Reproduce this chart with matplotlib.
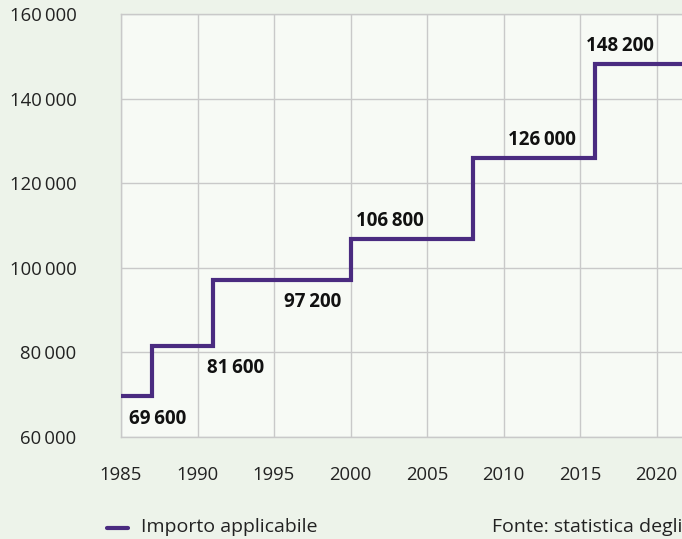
import matplotlib
matplotlib.use('Agg')
import matplotlib.pyplot as plt

plt.rcParams['font.family'] = ['Open Sans', 'DejaVu Sans']

# step data: year the amount applies from, amount
years = [1985, 1987, 1991, 2000, 2008, 2016, 2025]
amounts = [69600, 81600, 97200, 106800, 126000, 148200, 148200]
label_texts = ['69\u2009600', '81\u2009600', '97\u2009200', '106\u2009800', '126\u2009000', '148\u2009200']
label_x = [1987.4, 1992.5, 1997.5, 2002.6, 2012.5, 2017.6]
label_side = [-1, -1, -1, 1, 1, 1]   # below / above the line

xticks = [1985, 1990, 1995, 2000, 2005, 2010, 2015, 2020]
yticks = [60000, 80000, 100000, 120000, 140000, 160000]

purple = '#4a2b80'
W, H = 682, 539
fig = plt.figure(figsize=(W / 100, H / 100), dpi=100, facecolor='#edf3ea')

# axes run past the right edge of the picture (cut like the original)
x0, x1 = 121, 733
y0, y1 = 437, 14
ax = fig.add_axes([x0 / W, 1 - y0 / H, (x1 - x0) / W, (y0 - y1) / H])
ax.set_facecolor('#f7faf5')
ax.set_xlim(1985, 2025)
ax.set_ylim(60000, 160000)

ax.step(years, amounts, where='post', color=purple, lw=3.0, solid_joinstyle='miter',
        solid_capstyle='butt', zorder=3)

for txt, lx, side, val in zip(label_texts, label_x, label_side, amounts):
    off = 16 if side < 0 else 13
    ax.annotate(txt, (lx, val), xytext=(0, off * side), textcoords='offset points',
                ha='center', va='center', fontsize=13.5, fontweight='bold', color='#111111')

ax.set_xticks(xticks)
ax.set_yticks(yticks)
ax.set_yticklabels([f'{v:,}'.replace(',', '\u2009') for v in yticks])
ax.tick_params(length=0, labelsize=13.3, colors='#222222')
ax.tick_params(axis='x', pad=21)
ax.tick_params(axis='y', pad=32)
ax.grid(True, color='#c9c9c9', lw=1.0)
for s in ax.spines.values():
    s.set_color('#c9c9c9')
    s.set_linewidth(1.0)
ax.set_axisbelow(True)

# legend and source line
fig.add_artist(plt.Line2D([107 / W, 128 / W], [1 - 528 / H] * 2, color=purple, lw=3.0,
                          solid_capstyle='round'))
fig.text(141 / W, 1 - 527 / H, 'Importo applicabile', fontsize=14, va='center', color='#222222')
fig.text(492 / W, 1 - 527 / H, 'Fonte: statistica degli assicurati AVS', fontsize=14,
         va='center', color='#222222')

fig.savefig('out.png', dpi=100, facecolor=fig.get_facecolor())
